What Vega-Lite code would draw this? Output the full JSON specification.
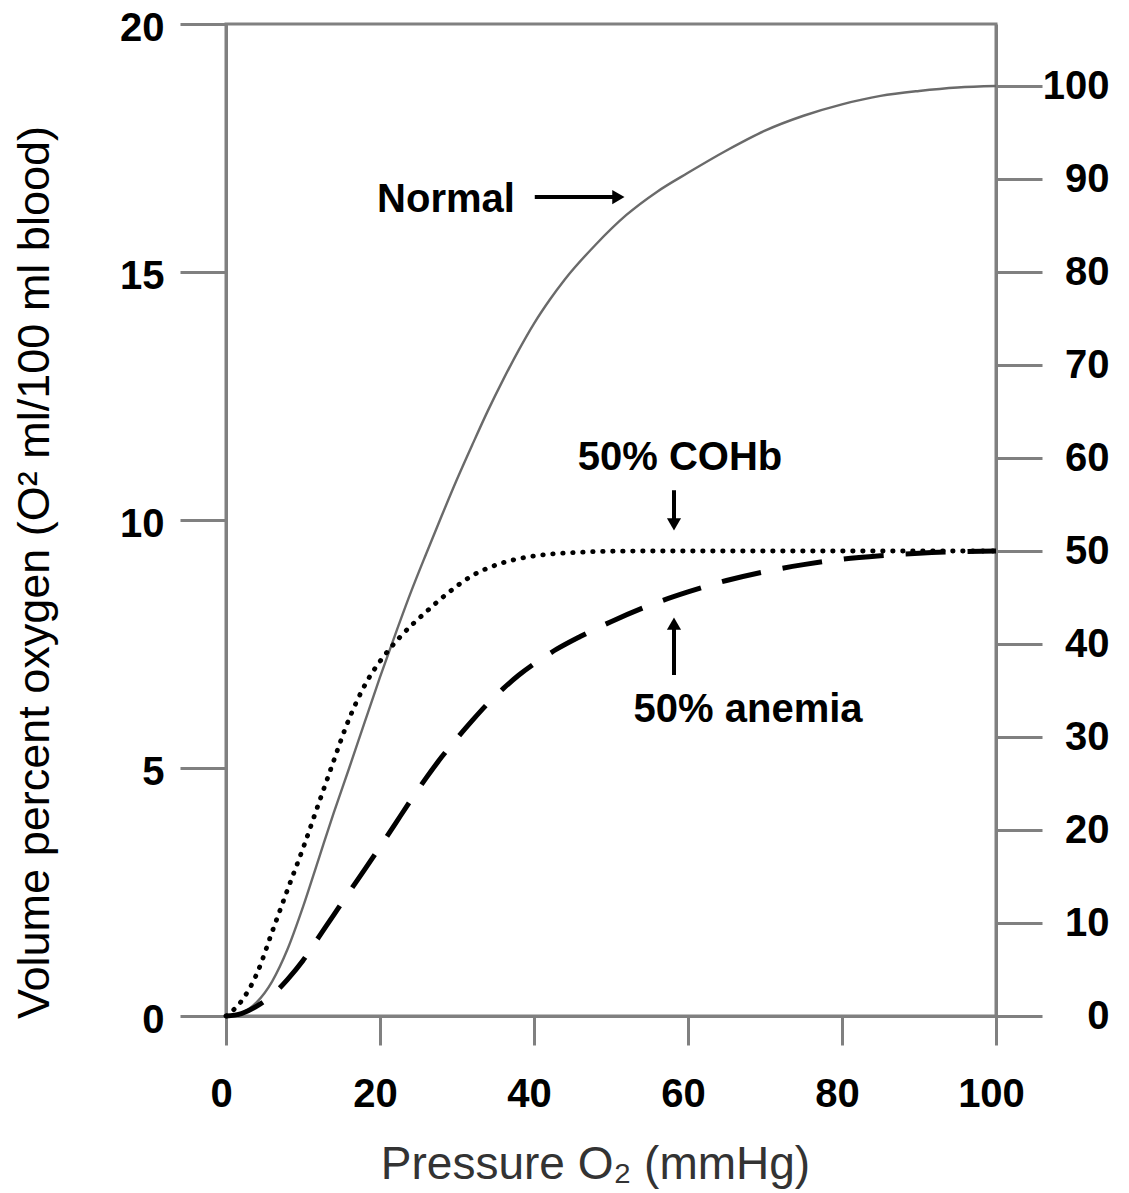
{
  "$schema": "https://vega.github.io/schema/vega-lite/v6.json",
  "width": 770,
  "height": 992,
  "autosize": {"type": "none"},
  "padding": {"left": 226, "top": 24, "right": 133, "bottom": 177},
  "background": "white",
  "config": {
    "view": {"stroke": "#808080", "strokeWidth": 3},
    "axis": {
      "grid": false,
      "domainColor": "#808080",
      "domainWidth": 3,
      "tickColor": "#808080",
      "tickWidth": 3,
      "labelFont": "Liberation Sans",
      "labelFontSize": 40,
      "labelFontWeight": "bold",
      "labelColor": "#000000",
      "titleFont": "Liberation Sans",
      "labelFlush": false,
      "labelOverlap": false
    }
  },
  "datasets": {
    "curves": [
      {"series": "Normal", "x": 0, "y": 0},
      {"series": "Normal", "x": 2, "y": 0.06},
      {"series": "Normal", "x": 4, "y": 0.28},
      {"series": "Normal", "x": 6, "y": 0.7},
      {"series": "Normal", "x": 8, "y": 1.35},
      {"series": "Normal", "x": 10, "y": 2.2},
      {"series": "Normal", "x": 12, "y": 3.15},
      {"series": "Normal", "x": 14, "y": 4.1},
      {"series": "Normal", "x": 16, "y": 5.0},
      {"series": "Normal", "x": 18, "y": 5.92},
      {"series": "Normal", "x": 20, "y": 6.83},
      {"series": "Normal", "x": 22, "y": 7.7},
      {"series": "Normal", "x": 24, "y": 8.54},
      {"series": "Normal", "x": 26, "y": 9.32},
      {"series": "Normal", "x": 28, "y": 10.08},
      {"series": "Normal", "x": 30, "y": 10.82},
      {"series": "Normal", "x": 32, "y": 11.52},
      {"series": "Normal", "x": 34, "y": 12.2},
      {"series": "Normal", "x": 36, "y": 12.83},
      {"series": "Normal", "x": 38, "y": 13.42},
      {"series": "Normal", "x": 40, "y": 13.96},
      {"series": "Normal", "x": 42, "y": 14.43},
      {"series": "Normal", "x": 44, "y": 14.85},
      {"series": "Normal", "x": 48, "y": 15.55},
      {"series": "Normal", "x": 52, "y": 16.15},
      {"series": "Normal", "x": 56, "y": 16.62},
      {"series": "Normal", "x": 60, "y": 17.0},
      {"series": "Normal", "x": 65, "y": 17.45},
      {"series": "Normal", "x": 70, "y": 17.85},
      {"series": "Normal", "x": 75, "y": 18.15},
      {"series": "Normal", "x": 80, "y": 18.38},
      {"series": "Normal", "x": 85, "y": 18.55},
      {"series": "Normal", "x": 90, "y": 18.65},
      {"series": "Normal", "x": 95, "y": 18.72},
      {"series": "Normal", "x": 100, "y": 18.75},
      {"series": "COHb", "x": 0, "y": 0},
      {"series": "COHb", "x": 2, "y": 0.3},
      {"series": "COHb", "x": 4, "y": 0.85},
      {"series": "COHb", "x": 6, "y": 1.7},
      {"series": "COHb", "x": 8, "y": 2.55},
      {"series": "COHb", "x": 10, "y": 3.38},
      {"series": "COHb", "x": 12, "y": 4.27},
      {"series": "COHb", "x": 14, "y": 5.15},
      {"series": "COHb", "x": 15.5, "y": 5.8},
      {"series": "COHb", "x": 17, "y": 6.35},
      {"series": "COHb", "x": 18.5, "y": 6.8},
      {"series": "COHb", "x": 20, "y": 7.15},
      {"series": "COHb", "x": 22.6, "y": 7.64},
      {"series": "COHb", "x": 26, "y": 8.15},
      {"series": "COHb", "x": 29, "y": 8.55},
      {"series": "COHb", "x": 32, "y": 8.88},
      {"series": "COHb", "x": 35.6, "y": 9.12},
      {"series": "COHb", "x": 39, "y": 9.25},
      {"series": "COHb", "x": 42, "y": 9.31},
      {"series": "COHb", "x": 46, "y": 9.35},
      {"series": "COHb", "x": 50, "y": 9.37},
      {"series": "COHb", "x": 55, "y": 9.375},
      {"series": "COHb", "x": 70, "y": 9.375},
      {"series": "COHb", "x": 85, "y": 9.375},
      {"series": "COHb", "x": 100, "y": 9.375},
      {"series": "Anemia", "x": 0, "y": 0},
      {"series": "Anemia", "x": 2, "y": 0.05},
      {"series": "Anemia", "x": 4, "y": 0.2},
      {"series": "Anemia", "x": 6, "y": 0.42},
      {"series": "Anemia", "x": 8, "y": 0.74},
      {"series": "Anemia", "x": 10, "y": 1.12},
      {"series": "Anemia", "x": 12, "y": 1.58},
      {"series": "Anemia", "x": 14, "y": 2.04},
      {"series": "Anemia", "x": 16, "y": 2.5},
      {"series": "Anemia", "x": 18, "y": 2.95},
      {"series": "Anemia", "x": 20, "y": 3.41},
      {"series": "Anemia", "x": 22, "y": 3.88},
      {"series": "Anemia", "x": 24, "y": 4.35},
      {"series": "Anemia", "x": 26, "y": 4.8},
      {"series": "Anemia", "x": 28, "y": 5.22},
      {"series": "Anemia", "x": 30, "y": 5.6},
      {"series": "Anemia", "x": 32, "y": 5.96},
      {"series": "Anemia", "x": 34, "y": 6.3},
      {"series": "Anemia", "x": 36, "y": 6.6},
      {"series": "Anemia", "x": 38, "y": 6.87},
      {"series": "Anemia", "x": 40, "y": 7.1},
      {"series": "Anemia", "x": 43, "y": 7.4},
      {"series": "Anemia", "x": 46, "y": 7.65},
      {"series": "Anemia", "x": 50, "y": 7.95},
      {"series": "Anemia", "x": 55, "y": 8.28},
      {"series": "Anemia", "x": 60, "y": 8.55},
      {"series": "Anemia", "x": 65, "y": 8.78},
      {"series": "Anemia", "x": 70, "y": 8.96},
      {"series": "Anemia", "x": 75, "y": 9.1},
      {"series": "Anemia", "x": 80, "y": 9.21},
      {"series": "Anemia", "x": 85, "y": 9.28},
      {"series": "Anemia", "x": 90, "y": 9.33},
      {"series": "Anemia", "x": 95, "y": 9.36},
      {"series": "Anemia", "x": 100, "y": 9.375}
    ],
    "arrows": [
      {"x": 40.1, "y": 16.51, "x2": 51.0, "y2": 16.51},
      {"x": 58.18, "y": 10.6, "x2": 58.18, "y2": 9.95},
      {"x": 58.18, "y": 6.875, "x2": 58.18, "y2": 7.9}
    ],
    "heads": [
      {"x": 50.96, "y": 16.51, "dir": "triangle-right"},
      {"x": 58.18, "y": 9.91, "dir": "triangle-down"},
      {"x": 58.18, "y": 7.91, "dir": "triangle-up"}
    ],
    "labels": [
      {"x": 28.57, "y": 16.21, "text": "Normal"},
      {"x": 58.96, "y": 11.01, "text": "50% COHb"},
      {"x": 67.8, "y": 5.93, "text": "50% anemia"}
    ],
    "right": [{"r": 0}, {"r": 100}]
  },
  "layer": [
    {
      "encoding": {
        "x": {
          "field": "x",
          "type": "quantitative",
          "scale": {"domain": [0, 100], "nice": false, "zero": false},
          "axis": {
            "values": [0, 20, 40, 60, 80, 100],
            "tickSize": 29,
            "labelPadding": 29,
            "labelOffset": -5,
            "title": "Pressure O₂ (mmHg)",
            "titleFontSize": 46,
            "titleFontWeight": "normal",
            "titleColor": "#333333",
            "titleX": 369,
            "titleY": 162,
            "titleAlign": "center",
            "titleBaseline": "alphabetic"
          }
        },
        "y": {
          "field": "y",
          "type": "quantitative",
          "scale": {"domain": [0, 20], "nice": false, "zero": false},
          "axis": {
            "orient": "left",
            "values": [0, 5, 10, 15, 20],
            "tickSize": 46,
            "labelPadding": 16,
            "labelOffset": 4,
            "title": "Volume percent oxygen (O² ml/100 ml blood)",
            "titleFontSize": 45,
            "titleFontWeight": "normal",
            "titleColor": "#000000",
            "titleX": -192,
            "titleY": 548,
            "titleAngle": -90,
            "titleAlign": "center",
            "titleBaseline": "middle"
          }
        }
      },
      "layer": [
        {
          "data": {"name": "curves"},
          "transform": [{"filter": "datum.series === 'Normal'"}],
          "mark": {"type": "line", "color": "#6a6a6a", "strokeWidth": 2.4, "interpolate": "monotone"}
        },
        {
          "data": {"name": "curves"},
          "transform": [{"filter": "datum.series === 'COHb'"}],
          "mark": {"type": "line", "color": "#000000", "strokeWidth": 4.8, "strokeDash": [0.5, 9.5], "strokeCap": "round", "interpolate": "monotone"}
        },
        {
          "data": {"name": "curves"},
          "transform": [{"filter": "datum.series === 'Anemia'"}],
          "mark": {"type": "line", "color": "#000000", "strokeWidth": 5, "strokeDash": [40, 22], "interpolate": "monotone"}
        },
        {
          "data": {"name": "arrows"},
          "mark": {"type": "rule", "color": "#000000", "strokeWidth": 4},
          "encoding": {
            "x2": {"field": "x2"},
            "y2": {"field": "y2"}
          }
        },
        {
          "data": {"name": "heads"},
          "mark": {"type": "point", "filled": true, "color": "#000000", "opacity": 1, "size": 200},
          "encoding": {
            "shape": {"field": "dir", "type": "nominal", "scale": null}
          }
        },
        {
          "data": {"name": "labels"},
          "mark": {"type": "text", "font": "Liberation Sans", "fontSize": 40, "fontWeight": "bold", "color": "#000000", "align": "center", "baseline": "alphabetic"},
          "encoding": {
            "text": {"field": "text", "type": "nominal"}
          }
        }
      ]
    },
    {
      "data": {"name": "right"},
      "mark": {"type": "rule", "opacity": 0},
      "encoding": {
        "y": {
          "field": "r",
          "type": "quantitative",
          "scale": {"domain": [0, 106.67], "nice": false, "zero": false},
          "axis": {
            "orient": "right",
            "values": [0, 10, 20, 30, 40, 50, 60, 70, 80, 90, 100],
            "tickSize": 46,
            "labelPadding": 67,
            "labelAlign": "right",
            "title": null
          }
        }
      }
    }
  ],
  "resolve": {"scale": {"y": "independent"}}
}
